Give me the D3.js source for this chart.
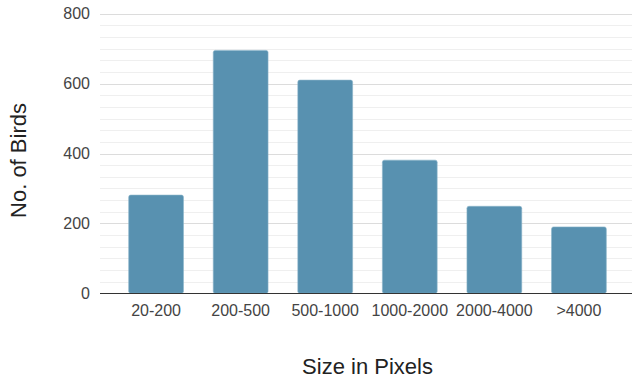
<!DOCTYPE html>
<html><head><meta charset="utf-8">
<script src="https://cdn.jsdelivr.net/npm/d3@7/dist/d3.min.js"></script>
<style>body{margin:0;background:#fff}svg{display:block}</style>
</head><body><svg id="c" width="632" height="381"></svg>
<script>
const categories = ["20-200","200-500","500-1000","1000-2000","2000-4000",">4000"];
const values = [281, 695, 610, 381, 249, 190];
const yTicks = [0, 200, 400, 600, 800];
const yMinorStep = 200/6;

const svg = d3.select("#c");
const font = "Arial, 'Liberation Sans', sans-serif";
const x = d3.scaleBand().domain(categories).range([113.8, 621.2]).paddingInner(0.352).paddingOuter(0.176);
const y = d3.scaleLinear().domain([0, 800]).range([293.3, 13.7]);
const gx0 = 100, gx1 = 632;

const minor = d3.range(0, 800 + 1e-6, yMinorStep).filter(v => !yTicks.some(t => Math.abs(t - v) < 1e-6));
svg.append("g").selectAll("line").data(minor).join("line")
  .attr("x1", gx0).attr("x2", gx1)
  .attr("y1", d => Math.round(y(d)) + 0.5).attr("y2", d => Math.round(y(d)) + 0.5)
  .attr("stroke", "#efefef").attr("stroke-width", 1);
svg.append("g").selectAll("line").data(yTicks.filter(t => t > 0)).join("line")
  .attr("x1", gx0).attr("x2", gx1)
  .attr("y1", d => Math.round(y(d)) + 0.5).attr("y2", d => Math.round(y(d)) + 0.5)
  .attr("stroke", "#dcdcdc").attr("stroke-width", 1);

svg.append("g").selectAll("rect").data(values).join("rect")
  .attr("x", (d, i) => x(categories[i]))
  .attr("width", x.bandwidth())
  .attr("y", d => y(d))
  .attr("height", d => y(0) - y(d))
  .attr("rx", 2).attr("ry", 2)
  .attr("fill", "#5891b0")
  .attr("stroke", "#8ab3c9").attr("stroke-width", 0.6);

svg.append("line").attr("x1", gx0).attr("x2", gx1)
  .attr("y1", Math.round(y(0)) + 0.5).attr("y2", Math.round(y(0)) + 0.5)
  .attr("stroke", "#333").attr("stroke-width", 1);

svg.append("g").selectAll("text").data(yTicks).join("text")
  .attr("x", 90).attr("y", d => y(d) + 5.5)
  .attr("text-anchor", "end").attr("font-family", font).attr("font-size", 16)
  .attr("fill", "#444").text(d => d);

svg.append("g").selectAll("text").data(categories).join("text")
  .attr("x", d => x(d) + x.bandwidth() / 2).attr("y", 316)
  .attr("text-anchor", "middle").attr("font-family", font).attr("font-size", 16)
  .attr("fill", "#444").text(d => d);

svg.append("text").attr("x", 367.5).attr("y", 374.3)
  .attr("text-anchor", "middle").attr("font-family", font).attr("font-size", 22)
  .attr("fill", "#222").text("Size in Pixels");

svg.append("text").attr("transform", "translate(25.5,160.5) rotate(-90)")
  .attr("text-anchor", "middle").attr("font-family", font).attr("font-size", 22)
  .attr("fill", "#222").text("No. of Birds");
</script></body></html>
